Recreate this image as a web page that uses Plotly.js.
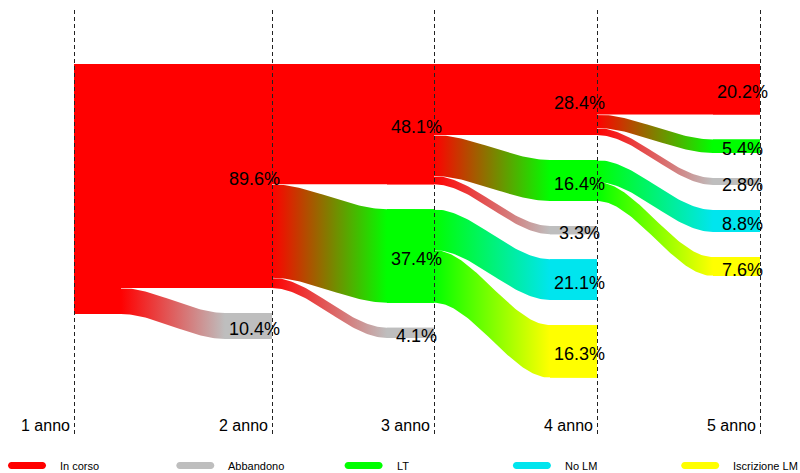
<!DOCTYPE html>
<html><head><meta charset="utf-8">
<script src="https://cdn.plot.ly/plotly-3.0.1.min.js"></script>
<style>html,body{margin:0;padding:0;background:#fff}#chart{width:800px;height:473px}</style>
</head><body><div id="chart"></div>
<script>
// ---- data ----
const anni = ['1 anno', '2 anno', '3 anno', '4 anno', '5 anno'];
const stati = ['In corso', 'Abbandono', 'LT', 'No LM', 'Iscrizione LM'];
const coloriStati = ['#FF0000', '#BEBEBE', '#00FF00', '#00E5EE', '#FFFF00'];
// flows: year index of source, source state, target state, percentage
const flussoAnno = [0, 0, 1, 1, 1, 2, 2, 2, 2, 2, 3, 3, 3, 3, 3];
const flussoDa = ['In corso', 'In corso', 'In corso', 'In corso', 'In corso', 'In corso', 'In corso', 'In corso', 'LT', 'LT', 'In corso', 'In corso', 'In corso', 'LT', 'LT'];
const flussoA = ['In corso', 'Abbandono', 'In corso', 'LT', 'Abbandono', 'In corso', 'LT', 'Abbandono', 'No LM', 'Iscrizione LM', 'In corso', 'LT', 'Abbandono', 'No LM', 'Iscrizione LM'];
const flussoPerc = [89.6, 10.4, 48.1, 37.4, 4.1, 28.4, 16.4, 3.3, 16.3, 21.1, 20.2, 5.4, 2.8, 8.8, 7.6];
// labels printed on the target strata (as shown in the chart)
const etichette = ['89.6%', '10.4%', '48.1%', '37.4%', '4.1%', '28.4%', '16.4%', '3.3%', '21.1%', '16.3%', '20.2%', '5.4%', '2.8%', '8.8%', '7.6%'];

// ---- layout constants ----
const W = 800, H = 473;
const lineeX = [74, 272, 434, 597, 760];
const largStrato = 47;
const GAP = 10;            // gap between strata, in % units
const TOP_PX = 64, PX_PER = 2.5;
const ordine = ['In corso', 'LT', 'Abbandono', 'No LM', 'Iscrizione LM'];
const colore = s => coloriStati[stati.indexOf(s)];
const strati = lineeX.map((x, k) => k === 0 ? [x, x + largStrato] : [x - largStrato, x]);

// node values
const nodi = anni.map(() => ({}));
flussoPerc.forEach((v, i) => {
  const k = flussoAnno[i];
  if (k === 0) nodi[0][flussoDa[i]] = (nodi[0][flussoDa[i]] || 0) + v;
  nodi[k + 1][flussoA[i]] = (nodi[k + 1][flussoA[i]] || 0) + v;
});
const pos = nodi.map(n => {
  let c = 0; const p = {};
  ordine.forEach(s => { if (n[s]) { p[s] = { top: c, bot: c + n[s] }; c += n[s] + GAP; } });
  return p;
});
const outCur = pos.map(p => { const o = {}; for (const s in p) o[s] = p[s].top; return o; });
const inCur = pos.map(p => { const o = {}; for (const s in p) o[s] = p[s].top; return o; });

const smooth = t => t * t * (3 - 2 * t);
const N = 60;
const traces = [];
const labelMap = {};
const idx = flussoPerc.map((_, i) => i).sort((a, b) =>
  flussoAnno[a] - flussoAnno[b] ||
  ordine.indexOf(flussoDa[a]) - ordine.indexOf(flussoDa[b]) ||
  ordine.indexOf(flussoA[a]) - ordine.indexOf(flussoA[b]));
idx.forEach(i => {
  const k = flussoAnno[i], da = flussoDa[i], a = flussoA[i], v = flussoPerc[i];
  const s0 = outCur[k][da]; outCur[k][da] += v;
  const t0 = inCur[k + 1][a]; inCur[k + 1][a] += v;
  labelMap[(k + 1) + '|' + a] = etichette[i];
  const [xs, sR] = strati[k];
  const [tL, tR] = strati[k + 1];
  const X = [xs], Y = [s0];
  for (let j = 0; j <= N; j++) { const t = j / N; X.push(sR + (tL - sR) * t); Y.push(s0 + (t0 - s0) * smooth(t)); }
  X.push(tR); Y.push(t0);
  X.push(tR); Y.push(t0 + v);
  for (let j = N; j >= 0; j--) { const t = j / N; X.push(sR + (tL - sR) * t); Y.push(s0 + v + (t0 - s0) * smooth(t)); }
  X.push(xs); Y.push(s0 + v);
  X.push(xs); Y.push(s0);
  const c0 = colore(da), c1 = colore(a);
  const tr = { type: 'scatter', mode: 'lines', x: X, y: Y, fill: 'toself',
    line: { width: 0, color: 'rgba(0,0,0,0)' }, hoverinfo: 'skip', showlegend: false };
  if (c0 === c1) tr.fillcolor = c0;
  else tr.fillgradient = { type: 'horizontal', start: sR, stop: tL, colorscale: [[0, c0], [1, c1]] };
  traces.push(tr);
});

// strata rectangles on top
const annotations = [];
pos.forEach((p, k) => {
  const [L, R] = strati[k];
  for (const s in p) {
    traces.push({ type: 'scatter', mode: 'lines', x: [L, R, R, L, L], y: [p[s].top, p[s].top, p[s].bot, p[s].bot, p[s].top],
      fill: 'toself', fillcolor: colore(s), line: { width: 0, color: 'rgba(0,0,0,0)' }, hoverinfo: 'skip', showlegend: false });
    const lab = labelMap[k + '|' + s];
    if (lab) annotations.push({ x: lineeX[k] - 17.5, y: (p[s].top + p[s].bot) / 2, xref: 'x', yref: 'y', text: lab,
      showarrow: false, xanchor: 'center', yanchor: 'middle', yshift: -3,
      font: { family: 'Liberation Sans, Arial, sans-serif', size: 18, color: '#000' } });
  }
});

// year labels
anni.forEach((t, k) => annotations.push({ x: lineeX[k] - 2.5, y: 1 - 425 / H, xref: 'x', yref: 'paper', text: t,
  showarrow: false, xanchor: 'right', yanchor: 'middle',
  font: { family: 'Liberation Sans, Arial, sans-serif', size: 16, color: '#000' } }));

// dashed verticals
const shapes = lineeX.map(x => ({ type: 'line', xref: 'x', yref: 'paper', x0: x + 0.5, x1: x + 0.5, y0: 1 - 10 / H, y1: 1 - 435 / H,
  line: { color: '#222222', width: 1, dash: '4px,3px' }, layer: 'above' }));

// legend (drawn manually)
const px = (x, y) => (x / W).toFixed(5) + ',' + (1 - y / H).toFixed(5);
function barPath(x0, x1, yc, r) {
  const k = 0.5523 * r;
  return 'M' + px(x0 + r, yc - r) + ' L' + px(x1 - r, yc - r) +
    ' C' + px(x1 - r + k, yc - r) + ' ' + px(x1, yc - k) + ' ' + px(x1, yc) +
    ' C' + px(x1, yc + k) + ' ' + px(x1 - r + k, yc + r) + ' ' + px(x1 - r, yc + r) +
    ' L' + px(x0 + r, yc + r) +
    ' C' + px(x0 + r - k, yc + r) + ' ' + px(x0, yc + k) + ' ' + px(x0, yc) +
    ' C' + px(x0, yc - k) + ' ' + px(x0 + r - k, yc - r) + ' ' + px(x0 + r, yc - r) + ' Z';
}
stati.forEach((s, i) => {
  const x0 = 8 + i * 168.3;
  shapes.push({ type: 'path', xref: 'paper', yref: 'paper', path: barPath(x0, x0 + 38, 465.5, 3.5),
    fillcolor: coloriStati[i], line: { width: 0 }, layer: 'above' });
  annotations.push({ x: (x0 + 50) / W, y: 1 - 466 / H, xref: 'paper', yref: 'paper', text: s, showarrow: false,
    xanchor: 'left', yanchor: 'middle', font: { family: 'Liberation Sans, Arial, sans-serif', size: 11, color: '#000' } });
});

const layout = {
  width: W, height: H, margin: { l: 0, r: 0, t: 0, b: 0 },
  paper_bgcolor: '#fff', plot_bgcolor: '#fff', showlegend: false,
  xaxis: { range: [0, W], visible: false, fixedrange: true },
  yaxis: { range: [(H - TOP_PX) / PX_PER, -TOP_PX / PX_PER], visible: false, fixedrange: true },
  shapes, annotations
};
Plotly.newPlot('chart', traces, layout, { staticPlot: true, displayModeBar: false });
</script></body></html>
